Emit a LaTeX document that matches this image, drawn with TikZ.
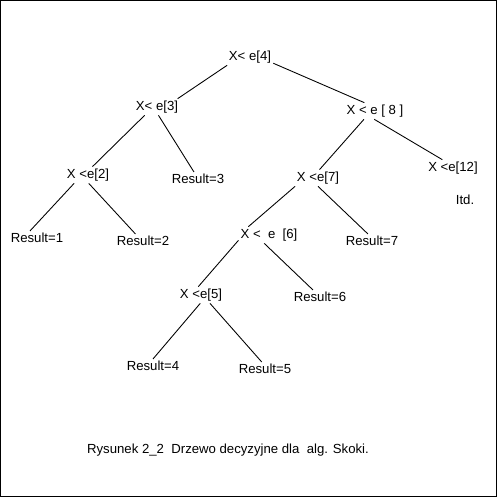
\documentclass[tikz,border=0pt]{standalone}
\usepackage{fontspec}
\setmainfont{Liberation Sans}
\usepackage{tikz}

\begin{document}
\begin{tikzpicture}[x=0.02cm,y=-0.02cm,
  every node/.style={inner sep=1pt,font=\fontsize{7.5}{9}\selectfont},
  every path/.style={line width=0.5pt}]
\useasboundingbox (0,0) rectangle (500,500);
\draw[line width=0.9pt] (0.6,0.6) rectangle (496.6,496.6);
\node (e4) at (250,57) {X< e[4]};
\node (e3) at (157,107) {X< e[3]};
\node (e8) at (375,111) {X < e [ 8 ]};
\node (e2) at (88,175) {X <e[2]};
\node (r3) at (198,179) {Result=3};
\node (e7) at (318,178) {X <e[7]};
\node (e12) at (453,168) {X <e[12]};
\node (itd) at (465,200) {Itd.};
\node (r1) at (37,238) {Result=1};
\node (r2) at (143,241) {Result=2};
\node (e6) at (269,235) {X < \ e \ [6]};
\node (r7) at (372,241) {Result=7};
\node (e5) at (201,295) {X <e[5]};
\node (r6) at (320,297) {Result=6};
\node (r4) at (153,366) {Result=4};
\node (r5) at (265,369) {Result=5};
\node (cap) at (228,450) {Rysunek 2\_2 \ Drzewo decyzyjne dla \ alg. Skoki.};
\draw (e4.200) -- (e3.22);
\draw (e4.345) -- (e8.142);
\draw (e3.214) -- (e2.62);
\draw (e3.280) -- (r3.120);
\draw (e8.217) -- (e7.80);
\draw (e8.265) -- (e12.142);
\draw (e2.211) -- (r1.135);
\draw (e2.275) -- (r2.137);
\draw (e7.200) -- (e6.158);
\draw (e7.270) -- (r7.120);
\draw (e6.190) -- (e5.108);
\draw (e6.240) -- (r6.135);
\draw (e5.265) -- (r4.90);
\draw (e5.317) -- (r5.115);
\end{tikzpicture}
\end{document}
